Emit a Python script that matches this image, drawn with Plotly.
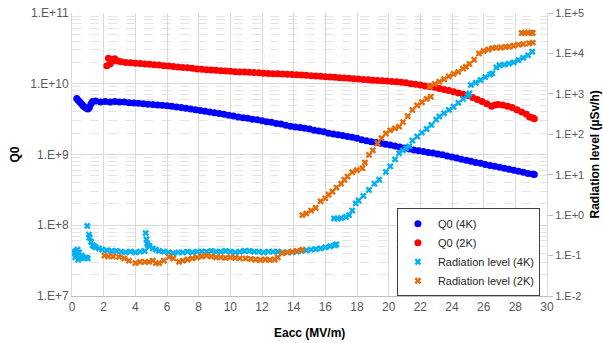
import plotly.graph_objects as go

# ---------------- data ----------------
q4_x = [0.3, 0.4, 0.5, 0.6, 0.7, 0.8, 0.9, 1.0, 1.1, 1.2, 1.3, 1.5, 1.8, 2.1, 2.4, 2.7, 3.0, 3.3, 3.6, 3.9,
        4.2, 4.5, 4.8, 5.1, 5.4, 5.7, 6.0, 6.3, 6.6, 6.9, 7.2, 7.5, 7.8, 8.1, 8.4, 8.7, 9.0, 9.3, 9.6, 9.9,
        10.2, 10.5, 10.8, 11.1, 11.4, 11.7, 12.0, 12.3, 12.6, 12.9, 13.2, 13.5, 13.8, 14.1, 14.4, 14.7, 15.0,
        15.3, 15.6, 15.9, 16.2, 16.5, 16.8, 17.1, 17.4, 17.7, 18.0, 18.3, 18.6, 18.9, 19.2, 19.5, 19.8, 20.1,
        20.4, 20.7, 21.0, 21.3, 21.6, 21.9, 22.2, 22.5, 22.8, 23.1, 23.4, 23.7, 24.0, 24.3, 24.6, 24.9, 25.2,
        25.5, 25.8, 26.1, 26.4, 26.7, 27.0, 27.3, 27.6, 27.9, 28.2, 28.5, 28.8, 29.1, 29.2]
q4_y = [6.2e9, 5.8e9, 5.5e9, 5.2e9, 4.9e9, 4.7e9, 4.5e9, 4.4e9, 4.6e9, 5.2e9, 5.6e9, 5.7e9, 5.5e9, 5.6e9, 5.5e9,
        5.6e9, 5.5e9, 5.5e9, 5.4e9, 5.35e9, 5.3e9, 5.2e9, 5.15e9, 5.1e9, 5.0e9, 4.95e9, 4.9e9, 4.8e9, 4.7e9,
        4.6e9, 4.5e9, 4.4e9, 4.3e9, 4.2e9, 4.1e9, 4.0e9, 3.9e9, 3.8e9, 3.7e9, 3.6e9, 3.5e9, 3.4e9, 3.3e9,
        3.25e9, 3.15e9, 3.1e9, 3.0e9, 2.9e9, 2.85e9, 2.75e9, 2.7e9, 2.6e9, 2.5e9, 2.45e9, 2.4e9, 2.35e9,
        2.3e9, 2.2e9, 2.15e9, 2.1e9, 2.0e9, 1.95e9, 1.9e9, 1.85e9, 1.8e9, 1.75e9, 1.7e9, 1.62e9, 1.57e9,
        1.52e9, 1.48e9, 1.44e9, 1.4e9, 1.36e9, 1.32e9, 1.28e9, 1.24e9, 1.2e9, 1.16e9, 1.13e9, 1.1e9, 1.07e9,
        1.05e9, 1.02e9, 0.99e9, 0.95e9, 0.92e9, 0.89e9, 0.86e9, 0.83e9, 0.8e9, 0.77e9, 0.75e9, 0.72e9,
        0.7e9, 0.68e9, 0.66e9, 0.64e9, 0.62e9, 0.6e9, 0.58e9, 0.56e9, 0.54e9, 0.53e9, 0.52e9]

q2_x = [2.2, 2.3, 2.4, 2.5, 2.6, 2.7, 2.9, 3.1, 3.4, 3.7, 4.0, 4.3, 4.6, 4.9, 5.2, 5.5, 5.8, 6.1, 6.4, 6.7,
        7.0, 7.3, 7.6, 7.9, 8.2, 8.5, 8.8, 9.1, 9.4, 9.7, 10.0, 10.3, 10.6, 10.9, 11.2, 11.5, 11.8, 12.1,
        12.4, 12.7, 13.0, 13.3, 13.6, 13.9, 14.2, 14.5, 14.8, 15.1, 15.4, 15.7, 16.0, 16.3, 16.6, 16.9, 17.2,
        17.5, 17.8, 18.1, 18.4, 18.7, 19.0, 19.3, 19.6, 19.9, 20.2, 20.5, 20.8, 21.1, 21.4, 21.7, 22.0, 22.3,
        22.6, 22.9, 23.2, 23.5, 23.8, 24.1, 24.4, 24.7, 25.0, 25.3, 25.6, 25.9, 26.2, 26.5, 26.7, 26.9, 27.2,
        27.5, 27.8, 28.1, 28.4, 28.7, 28.9, 29.1, 29.2]
q2_y = [1.8e10, 2.3e10, 1.9e10, 2.2e10, 2.1e10, 2.25e10, 2.1e10, 2.05e10, 2.0e10, 1.98e10, 1.95e10, 1.93e10,
        1.9e10, 1.88e10, 1.86e10, 1.84e10, 1.8e10, 1.78e10, 1.75e10, 1.72e10, 1.7e10, 1.68e10, 1.65e10,
        1.62e10, 1.6e10, 1.58e10, 1.56e10, 1.55e10, 1.53e10, 1.52e10, 1.5e10, 1.48e10, 1.47e10, 1.46e10,
        1.45e10, 1.44e10, 1.43e10, 1.41e10, 1.4e10, 1.39e10, 1.38e10, 1.37e10, 1.36e10, 1.35e10, 1.34e10,
        1.33e10, 1.32e10, 1.3e10, 1.29e10, 1.28e10, 1.26e10, 1.25e10, 1.24e10, 1.22e10, 1.21e10, 1.2e10,
        1.18e10, 1.17e10, 1.15e10, 1.14e10, 1.12e10, 1.11e10, 1.1e10, 1.09e10, 1.08e10, 1.07e10, 1.05e10,
        1.03e10, 1.0e10, 0.98e10, 0.96e10, 0.93e10, 0.91e10, 0.89e10, 0.86e10, 0.83e10, 0.8e10, 0.77e10,
        0.74e10, 0.71e10, 0.68e10, 0.64e10, 0.6e10, 0.56e10, 0.52e10, 0.48e10, 0.5e10, 0.51e10, 0.5e10,
        0.48e10, 0.46e10, 0.43e10, 0.4e10, 0.37e10, 0.34e10, 0.33e10, 0.32e10]

r4_x = [0.15, 0.2, 0.25, 0.3, 0.35, 0.4, 0.45, 0.5, 0.6, 0.7, 0.8, 0.9, 1.0, 0.97, 1.07, 1.1, 1.2, 1.3, 1.4,
        1.5, 1.7, 1.9, 2.2, 2.5, 2.8, 3.1, 3.4, 3.7, 4.0, 4.3, 4.6, 4.65, 4.7, 4.75, 4.8, 4.9, 5.1, 5.3, 5.5,
        5.8, 6.1, 6.4, 6.7, 7.0, 7.3, 7.6, 7.9, 8.2, 8.5, 8.8, 9.1, 9.4, 9.7, 10.0, 10.3, 10.6, 10.9, 11.2,
        11.5, 11.8, 12.1, 12.4, 12.7, 13.0, 13.3, 13.6, 13.9, 14.2, 14.5, 14.8, 15.1, 15.4, 15.7, 16.0, 16.3,
        16.6, 16.7,
        16.55, 16.8, 17.0, 17.3, 17.5, 17.7, 17.92, 18.1, 18.4, 18.76, 19.1, 19.4, 19.82, 20.1, 20.4, 20.66,
        20.9, 21.1, 21.3, 21.5, 21.8, 22.1, 22.4, 22.7, 23.0, 23.2, 23.5, 23.8, 24.1, 24.4, 24.7, 25.0, 25.1,
        25.19, 25.5, 25.8, 26.1, 26.4, 26.55, 26.8, 27.0, 27.3, 27.6, 27.9, 28.2, 28.5, 28.8, 29.07]
r4_y = [0.12, 0.09, 0.13, 0.10, 0.14, 0.08, 0.12, 0.09, 0.10, 0.09, 0.085, 0.09, 0.085, 0.54, 0.33, 0.28,
        0.22, 0.18, 0.17, 0.16, 0.15, 0.14, 0.135, 0.13, 0.13, 0.125, 0.12, 0.125, 0.12, 0.125, 0.13, 0.36,
        0.25, 0.2, 0.18, 0.17, 0.15, 0.14, 0.13, 0.125, 0.12, 0.115, 0.12, 0.12, 0.125, 0.12, 0.125, 0.125,
        0.125, 0.13, 0.125, 0.125, 0.13, 0.125, 0.12, 0.125, 0.13, 0.13, 0.125, 0.125, 0.12, 0.125, 0.125,
        0.125, 0.12, 0.12, 0.12, 0.125, 0.13, 0.135, 0.14, 0.145, 0.15, 0.16, 0.17, 0.18, 0.19,
        0.83, 0.82, 0.85, 0.9, 1.0, 1.3, 1.95, 2.3, 3.0, 4.2, 6.0, 7.5, 11.7, 16, 24, 34,
        40, 45, 50, 70, 88, 110, 135, 170, 230, 275, 330, 400, 480, 600, 750, 900, 1020,
        1660, 1900, 2200, 2600, 3000, 3200, 4500, 5100, 5300, 5600, 6000, 6800, 7800, 9000, 11000]

r2_x = [2.05, 2.3, 2.6, 2.97, 3.3, 3.6, 4.0, 4.3, 4.6, 4.86, 5.1, 5.3, 5.5, 5.8, 6.13, 6.4, 6.76, 7.0, 7.3,
        7.6, 7.9, 8.2, 8.5, 8.8, 9.1, 9.4, 9.7, 10.0, 10.3, 10.6, 10.97, 11.3, 11.6, 11.9, 12.2, 12.5, 12.8,
        13.0, 13.28, 13.6, 13.9, 14.2, 14.55,
        14.55, 14.8, 15.1, 15.39, 15.7, 16.0, 16.2, 16.45, 16.7, 17.0, 17.2, 17.4, 17.7, 18.0, 18.34, 18.5,
        18.76, 19.0, 19.29, 19.55, 19.82, 20.1, 20.4, 20.66, 20.9, 21.2, 21.5, 21.8, 22.1, 22.4, 22.66,
        22.6, 22.9, 23.2, 23.5, 23.8, 24.1, 24.4, 24.7, 24.87, 25.1, 25.4, 25.7, 26.0, 26.3, 26.55, 26.8,
        27.1, 27.4, 27.6, 27.9, 28.2, 28.5, 28.87, 29.1,
        28.4, 28.6, 28.8, 29.0, 29.1]
r2_y = [0.10, 0.095, 0.095, 0.093, 0.085, 0.075, 0.065, 0.07, 0.07, 0.07, 0.075, 0.065, 0.065, 0.075, 0.093,
        0.085, 0.07, 0.075, 0.08, 0.085, 0.09, 0.095, 0.1, 0.095, 0.09, 0.09, 0.088, 0.09, 0.088, 0.085,
        0.085, 0.082, 0.08, 0.078, 0.08, 0.078, 0.08, 0.09, 0.115, 0.12, 0.125, 0.13, 0.14,
        1.0, 1.1, 1.3, 1.5, 2.2, 2.6, 3.2, 3.8, 4.8, 6.0, 7.5, 9.0, 11.5, 13, 14.5, 20,
        31, 40, 60, 80, 105, 125, 140, 155, 200, 280, 400, 520, 620, 750, 850,
        1500, 1750, 2000, 2300, 2700, 3100, 3500, 4200, 4700, 5500, 7000, 10000, 11500, 12500, 13500, 13800,
        14000, 14500, 14800, 15500, 16500, 17000, 17800, 18500,
        32000, 32500, 32000, 32500, 32000]

left_ticks = [1e7, 1e8, 1e9, 1e10, 1e11]
left_labels = ["1.E+7", "1.E+8", "1.E+9", "1.E+10", "1.E+11"]
right_ticks = [1e-2, 1e-1, 1e0, 1e1, 1e2, 1e3, 1e4, 1e5]
right_labels = ["1.E-2", "1.E-1", "1.E+0", "1.E+1", "1.E+2", "1.E+3", "1.E+4", "1.E+5"]

# ---------------- figure ----------------
FONT = "Liberation Sans"
TICK_COLOR = "#595959"
GRID = "#D9D9D9"
TITLE_FONT = dict(family=FONT, size=12, color="#000000")

fig = go.Figure()
fig.add_trace(go.Scatter(x=q4_x, y=q4_y, mode="markers", name="Q0 (4K)",
                         marker=dict(symbol="circle", size=7, color="#0000FF")))
fig.add_trace(go.Scatter(x=q2_x, y=q2_y, mode="markers", name="Q0 (2K)",
                         marker=dict(symbol="circle", size=7, color="#FF0000")))
fig.add_trace(go.Scatter(x=r4_x, y=r4_y, mode="markers", name="Radiation level (4K)", yaxis="y2",
                         marker=dict(symbol="x", size=6, color="#00B0F0")))
fig.add_trace(go.Scatter(x=r2_x, y=r2_y, mode="markers", name="Radiation level (2K)", yaxis="y2",
                         marker=dict(symbol="x", size=6, color="#E46C0A")))

fig.update_layout(
    width=603, height=343,
    margin=dict(l=72, r=56, t=13, b=47),
    paper_bgcolor="white", plot_bgcolor="white",
    font=dict(family=FONT, size=12, color=TICK_COLOR),
    showlegend=True,
    legend=dict(x=0.684, y=0.31, xanchor="left", yanchor="top",
                bgcolor="white", bordercolor="#404040", borderwidth=1,
                font=dict(family=FONT, size=11, color="#262626"),
                itemwidth=30, tracegroupgap=0),
    xaxis=dict(range=[0, 30], dtick=2, tick0=0, showgrid=True, gridcolor=GRID, gridwidth=1,
               zeroline=False, showline=True, linecolor="#BFBFBF", ticks="", automargin=False,
               tickfont=dict(family=FONT, size=12, color=TICK_COLOR)),
    yaxis=dict(type="log", range=[7, 11], tickvals=left_ticks, ticktext=left_labels,
               showgrid=True, gridcolor=GRID, gridwidth=1, zeroline=False, automargin=False,
               showline=True, linecolor="#D9D9D9", ticks="", ticklabeloverflow="allow",
               minor=dict(dtick="D1", showgrid=True, gridcolor="#E4E4E4", griddash="dash", gridwidth=1, ticks=""),
               tickfont=dict(family=FONT, size=12, color=TICK_COLOR)),
    yaxis2=dict(type="log", range=[-2, 5], overlaying="y", side="right", automargin=False,
                tickvals=right_ticks, ticktext=right_labels, showgrid=False, zeroline=False,
                showline=True, linecolor="#D9D9D9", ticks="outside", ticklen=5, tickcolor="#BFBFBF",
                ticklabeloverflow="allow",
                tickfont=dict(family=FONT, size=11, color=TICK_COLOR)),
    annotations=[
        dict(text="<b>Eacc (MV/m)</b>", xref="paper", yref="paper", x=0.5, y=-0.131,
             xanchor="center", yanchor="middle", showarrow=False, font=TITLE_FONT),
        dict(text="<b>Q0</b>", xref="paper", yref="paper", x=-0.122, y=0.5, textangle=-90,
             xanchor="center", yanchor="middle", showarrow=False, font=TITLE_FONT),
        dict(text="<b>Radiation level (µSv/h)</b>", xref="paper", yref="paper", x=1.099, y=0.5,
             textangle=-90, xanchor="center", yanchor="middle", showarrow=False, font=TITLE_FONT),
    ],
)

# remove the default 8px page margin so the 603x343 figure fills the window exactly
fig.write_html("out.html", config={"displayModeBar": False},
               post_script="document.body.style.margin='0px';document.body.style.overflow='hidden';")
